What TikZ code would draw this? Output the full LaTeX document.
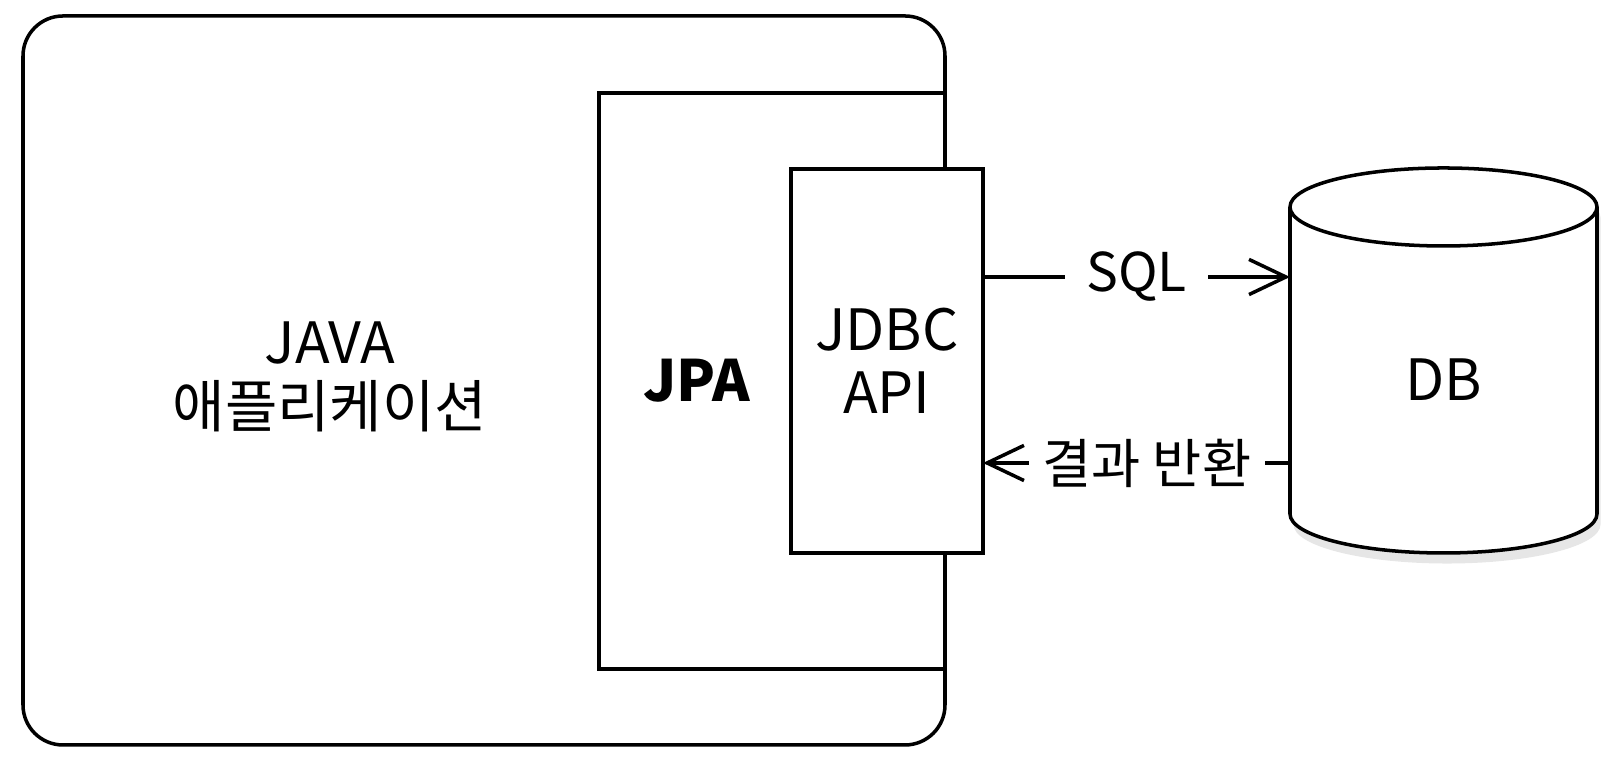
\documentclass[tikz,border=0pt]{standalone}
\usepackage{fontspec}
\setmainfont{Noto Sans CJK KR}
\usetikzlibrary{arrows.meta,shadows}
\tikzset{
    box/.style={draw,line width=1pt,fill=white,outer sep=0pt},
    txt/.style={align=center,font=\fontsize{16.2}{18}\selectfont},
    conn/.style={line width=1pt,-{Straight Barb[length=10.5pt,width=10pt,line width=1pt]}},
    lbl/.style={align=center,font=\fontsize{15.2}{18}\selectfont,fill=white,inner sep=4pt}
}
\begin{document}
\begin{tikzpicture}
            \useasboundingbox (0,0) rectangle (16.18,7.72);
            % Applicazione
            \node[box,rounded corners=0.4cm,minimum width=9.22cm,minimum height=7.29cm] (app) at (4.84,3.915) {};
            \node[txt] (apptext) at (3.30,3.95) {JAVA\\애플리케이션};
            \node[box,minimum width=3.46cm,minimum height=5.76cm] (jpa) at (7.72,3.91) {};
            \node[txt,font=\fontsize{16.2}{18}\selectfont\bfseries] (jpatext) at (6.97,3.91) {JPA};
            \node[box,txt,minimum width=1.92cm,minimum height=3.84cm] (jdbc) at (8.87,4.11) {JDBC\\API};
            % Database
            \draw[line width=1pt,fill=white,drop shadow={opacity=0.2,shadow xshift=1pt,shadow yshift=-3pt}]
                (12.90,5.65) -- (12.90,2.58) arc[start angle=180,end angle=360,x radius=1.535,y radius=0.39]
                -- (15.97,5.65) arc[start angle=0,end angle=180,x radius=1.535,y radius=0.39] -- cycle;
            \draw[line width=1pt] (12.90,5.65) arc[start angle=180,end angle=360,x radius=1.535,y radius=0.39];
            \node[txt,minimum width=3.07cm,minimum height=3.46cm,outer sep=0pt] (db) at (14.435,3.92) {DB};
            % Frecce
            \coordinate (sqlstart) at ([yshift=0.84cm]jdbc.east);
            \coordinate (resend) at ([yshift=-1.02cm]jdbc.east);
            \draw[conn] (sqlstart) -- node[lbl,inner sep=6pt] {SQL} (sqlstart -| db.west);
            \draw[conn] (resend -| db.west) -- node[lbl,pos=0.466] {결과 반환} (resend);
\end{tikzpicture}
\end{document}
